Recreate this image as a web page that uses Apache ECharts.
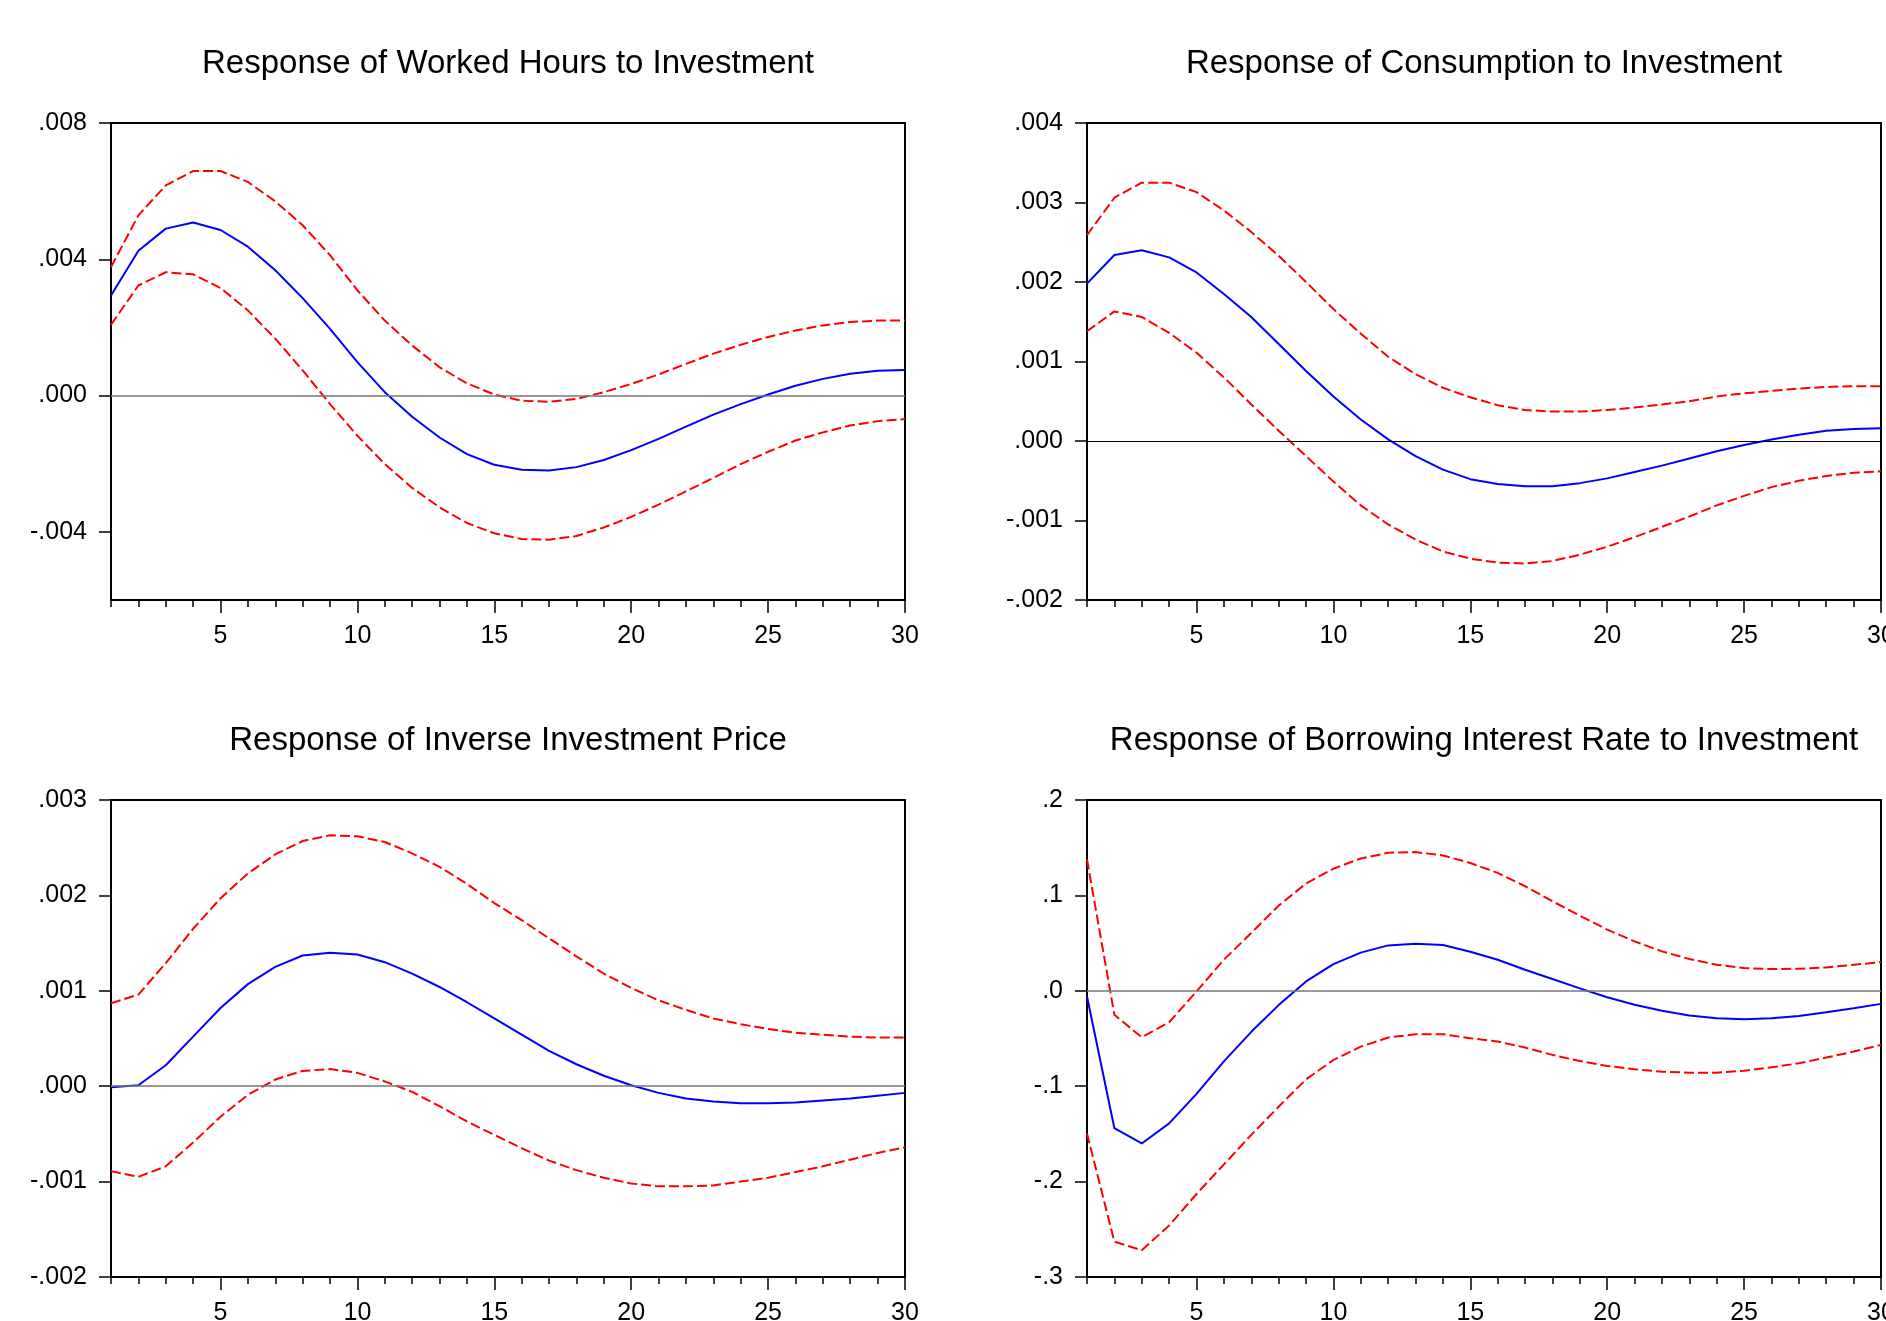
<!DOCTYPE html>
<html>
<head>
<meta charset="utf-8">
<script src="https://cdn.jsdelivr.net/npm/echarts@6/dist/echarts.min.js"></script>
<style>
  html, body { margin: 0; padding: 0; background: #fff; overflow: hidden; }
  #graph { width: 1886px; height: 1321px; }
</style>
</head>
<body>
<div id="graph"></div>
<script>
var periods = [];
for (var i = 1; i <= 30; i++) periods.push(i);

var titles = [
    'Response of Worked Hours to Investment',
    'Response of Consumption to Investment',
    'Response of Inverse Investment Price',
    'Response of Borrowing Interest Rate to Investment'
];

// worked hours
var hoursIrf = [0.00294, 0.00425, 0.0049, 0.00508, 0.00486, 0.00437, 0.00368, 0.00286, 0.00196, 0.00098,
    0.0001, -0.00062, -0.00123, -0.00172, -0.00203, -0.00218, -0.0022, -0.0021, -0.00189, -0.0016,
    -0.00127, -0.00091, -0.00056, -0.00025, 0.00003, 0.00029, 0.00049, 0.00064, 0.00073, 0.00075];
var hoursUpper = [0.00377, 0.00529, 0.00617, 0.00659, 0.00659, 0.00627, 0.0057, 0.005, 0.00412, 0.00309,
    0.0022, 0.00147, 0.00083, 0.00036, 0.00003, -0.00015, -0.00018, -0.0001, 0.0001, 0.00034,
    0.00062, 0.00093, 0.00123, 0.00149, 0.00172, 0.00191, 0.00206, 0.00216, 0.0022, 0.0022];
var hoursLower = [0.00208, 0.00323, 0.00362, 0.00356, 0.00316, 0.0025, 0.00167, 0.00074, -0.00025, -0.00118,
    -0.00201, -0.00271, -0.00328, -0.00374, -0.00404, -0.00421, -0.00423, -0.00412, -0.00387, -0.00356,
    -0.0032, -0.00281, -0.00242, -0.00201, -0.00165, -0.00132, -0.00108, -0.00088, -0.00075, -0.00069];

// consumption
var consIrf = [0.00198, 0.00234, 0.0024, 0.00231, 0.00212, 0.00185, 0.00156, 0.00122, 0.00088, 0.00056,
    0.00027, 0.00002, -0.00019, -0.00036, -0.00048, -0.00054, -0.00057, -0.00057, -0.00053, -0.00047,
    -0.00039, -0.00031, -0.00022, -0.00013, -0.00005, 0.00002, 0.00008, 0.00013, 0.00015, 0.00016];
var consUpper = [0.00259, 0.00306, 0.00325, 0.00325, 0.00313, 0.0029, 0.00263, 0.00233, 0.002, 0.00166,
    0.00135, 0.00106, 0.00084, 0.00067, 0.00055, 0.00045, 0.00039, 0.00037, 0.00037, 0.00039,
    0.00042, 0.00046, 0.0005, 0.00056, 0.0006, 0.00063, 0.00066, 0.00068, 0.00069, 0.00069];
var consLower = [0.00138, 0.00163, 0.00156, 0.00136, 0.00111, 0.0008, 0.00046, 0.00013, -0.00019, -0.00051,
    -0.00081, -0.00105, -0.00124, -0.00139, -0.00148, -0.00153, -0.00154, -0.00151, -0.00143, -0.00133,
    -0.00121, -0.00108, -0.00095, -0.00081, -0.00069, -0.00058, -0.0005, -0.00044, -0.0004, -0.00038];

// inverse investment price
var priceIrf = [-0.00001, 0.00001, 0.00022, 0.00052, 0.00082, 0.00107, 0.00125, 0.00137, 0.0014, 0.00138,
    0.0013, 0.00118, 0.00104, 0.00088, 0.00071, 0.00054, 0.00037, 0.00023, 0.00011, 0.00001,
    -0.00007, -0.00013, -0.00016, -0.00018, -0.00018, -0.00017, -0.00015, -0.00013, -0.0001, -0.00007];
var priceUpper = [0.00087, 0.00096, 0.00129, 0.00165, 0.00197, 0.00223, 0.00243, 0.00257, 0.00263, 0.00262,
    0.00256, 0.00244, 0.0023, 0.00212, 0.00192, 0.00174, 0.00155, 0.00136, 0.00118, 0.00103,
    0.0009, 0.0008, 0.00071, 0.00065, 0.0006, 0.00056, 0.00054, 0.00052, 0.00051, 0.00051];
var priceLower = [-0.00089, -0.00095, -0.00084, -0.00059, -0.00032, -0.00009, 0.00007, 0.00016, 0.00018, 0.00014,
    0.00005, -0.00006, -0.00021, -0.00037, -0.00051, -0.00065, -0.00078, -0.00088, -0.00096, -0.00102,
    -0.00105, -0.00105, -0.00104, -0.001, -0.00096, -0.0009, -0.00084, -0.00077, -0.0007, -0.00064];

// borrowing interest rate
var rateIrf = [-0.006, -0.144, -0.16, -0.139, -0.108, -0.074, -0.043, -0.015, 0.0098, 0.028,
    0.04, 0.0476, 0.0494, 0.048, 0.041, 0.0326, 0.022, 0.0123, 0.0025, -0.0067,
    -0.0147, -0.021, -0.026, -0.0287, -0.0298, -0.0287, -0.0263, -0.0224, -0.0182, -0.0137];
var rateUpper = [0.1377, -0.0252, -0.0487, -0.033, -0.0007, 0.0326, 0.0606, 0.0893, 0.1124, 0.128,
    0.1387, 0.1447, 0.1454, 0.1419, 0.134, 0.1236, 0.1096, 0.0939, 0.0788, 0.0641,
    0.0518, 0.0413, 0.0333, 0.0273, 0.0238, 0.0228, 0.0231, 0.0245, 0.0273, 0.0301];
var rateLower = [-0.1496, -0.263, -0.272, -0.246, -0.213, -0.182, -0.151, -0.1215, -0.0928, -0.0725,
    -0.0585, -0.049, -0.0455, -0.0455, -0.0497, -0.0532, -0.0595, -0.0672, -0.0736, -0.0788,
    -0.0823, -0.0848, -0.0858, -0.0858, -0.0837, -0.0802, -0.076, -0.07, -0.0637, -0.0567];

// y axis ranges and labelled ticks
var yMins = [-0.006, -0.002, -0.002, -0.3];
var yMaxs = [0.008, 0.004, 0.003, 0.2];
var yTicks = [
    [-0.004, 0, 0.004, 0.008],
    [-0.002, -0.001, 0, 0.001, 0.002, 0.003, 0.004],
    [-0.002, -0.001, 0, 0.001, 0.002, 0.003],
    [-0.3, -0.2, -0.1, 0, 0.1, 0.2]
];
var yDecimals = [3, 3, 3, 1];

var panels = [
    { irf: hoursIrf, upper: hoursUpper, lower: hoursLower },
    { irf: consIrf, upper: consUpper, lower: consLower },
    { irf: priceIrf, upper: priceUpper, lower: priceLower },
    { irf: rateIrf, upper: rateUpper, lower: rateLower }
];

var chart = echarts.init(document.getElementById('graph'));

var font = "'Liberation Sans', Arial, sans-serif";
var gridLefts = [111, 1087, 111, 1087];
var gridTops = [123, 123, 800, 800];
var gridW = 794, gridH = 477;

var option = {
    backgroundColor: '#fff',
    animation: false,
    title: [],
    grid: [],
    xAxis: [],
    yAxis: [],
    series: []
};

panels.forEach(function (p, k) {
    option.title.push({
        text: titles[k],
        left: gridLefts[k] + gridW / 2,
        top: gridTops[k] - 76,
        textAlign: 'center',
        padding: 0,
        textStyle: { fontFamily: font, fontSize: 33, fontWeight: 'normal', color: '#000' }
    });
    option.grid.push({
        left: gridLefts[k], top: gridTops[k], width: gridW, height: gridH,
        outerBoundsMode: 'none', containLabel: false,
        show: true, borderColor: '#000', borderWidth: 2, backgroundColor: '#fff'
    });
    // all integer ticks, short
    option.xAxis.push({
        type: 'category', gridIndex: k, data: periods, boundaryGap: false, position: 'bottom',
        axisLine: { onZero: false, lineStyle: { color: '#000', width: 2 } },
        axisTick: { interval: 0, length: 7, lineStyle: { color: '#000', width: 1.5 } },
        axisLabel: { show: false }
    });
    // every fifth period, longer tick with label
    option.xAxis.push({
        type: 'category', gridIndex: k, data: periods, boundaryGap: false, position: 'bottom',
        axisLine: { show: false, onZero: false },
        axisTick: {
            length: 13, lineStyle: { color: '#000', width: 1.5 },
            interval: function (idx) { return (idx + 1) % 5 === 0; }
        },
        axisLabel: {
            margin: 24, fontFamily: font, fontSize: 25, color: '#000',
            interval: function (idx) { return (idx + 1) % 5 === 0; }
        }
    });
    var dec = yDecimals[k];
    option.yAxis.push({
        type: 'value', gridIndex: k, min: yMins[k], max: yMaxs[k],
        splitLine: { show: false },
        axisLine: { show: true, onZero: false, lineStyle: { color: '#000', width: 2 } },
        axisTick: { show: true, length: 12, customValues: yTicks[k], lineStyle: { color: '#000', width: 1.5 } },
        axisLabel: {
            margin: 24, fontFamily: font, fontSize: 25, color: '#000',
            customValues: yTicks[k],
            formatter: function (v) { return v.toFixed(dec).replace('0.', '.'); }
        }
    });
    var zeroColor = k === 1 ? '#000' : '#777';
    var zeroWidth = k === 1 ? 1 : 1.5;
    option.series.push({
        type: 'line', xAxisIndex: 2 * k, yAxisIndex: k, data: p.irf,
        showSymbol: false, silent: true,
        lineStyle: { color: '#0000ff', width: 2 },
        markLine: {
            silent: true, symbol: 'none', label: { show: false },
            lineStyle: { color: zeroColor, width: zeroWidth, type: 'solid' },
            data: [{ yAxis: 0 }]
        },
        z: 3
    });
    option.series.push({
        type: 'line', xAxisIndex: 2 * k, yAxisIndex: k, data: p.upper,
        showSymbol: false, silent: true,
        lineStyle: { color: '#ff0000', width: 2, type: [10, 4] },
        z: 2
    });
    option.series.push({
        type: 'line', xAxisIndex: 2 * k, yAxisIndex: k, data: p.lower,
        showSymbol: false, silent: true,
        lineStyle: { color: '#ff0000', width: 2, type: [10, 4] },
        z: 2
    });
});

chart.setOption(option);
</script>
</body>
</html>
